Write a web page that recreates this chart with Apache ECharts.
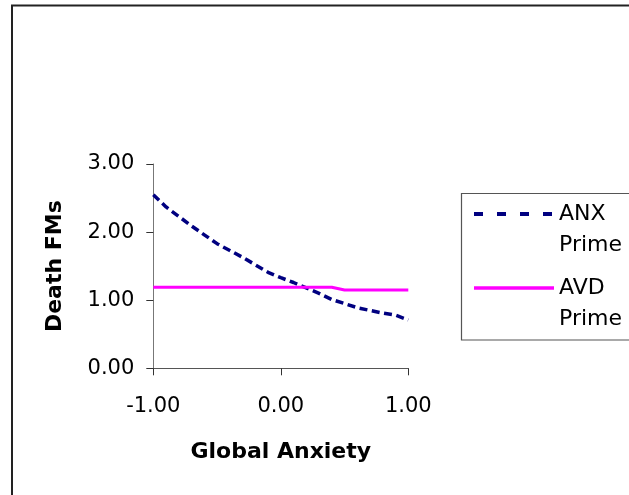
<!DOCTYPE html>
<html>
<head>
<meta charset="utf-8">
<script src="https://cdn.jsdelivr.net/npm/echarts@6/dist/echarts.min.js"></script>
<style>
html,body{margin:0;padding:0;background:#fff;}
#c{width:629px;height:495px;}
</style>
</head>
<body>
<div id="c"></div>
<script>
// Data
const xValues = [-1.0,-0.9,-0.8,-0.7,-0.6,-0.5,-0.4,-0.3,-0.2,-0.1,0.0,0.1,0.2,0.3,0.4,0.5,0.6,0.7,0.8,0.9,1.0];
const anxPrime = [2.55,2.37,2.23,2.09,1.96,1.83,1.73,1.63,1.52,1.41,1.33,1.26,1.18,1.10,1.01,0.95,0.89,0.85,0.81,0.78,0.71];
const avdPrime = [1.19,1.19,1.19,1.19,1.19,1.19,1.19,1.19,1.19,1.19,1.19,1.19,1.19,1.19,1.19,1.15,1.15,1.15,1.15,1.15,1.15];
const seriesNames = ['ANX Prime','AVD Prime'];
const xTicks = [-1, 0, 1];
const yTicks = [0, 1, 2, 3];
const xTitle = 'Global Anxiety';
const yTitle = 'Death FMs';

const FONT = 'DejaVu Sans';
const pairs = (ys) => xValues.map((x, i) => [x, ys[i]]);

const chart = echarts.init(document.getElementById('c'), null, {renderer: 'canvas'});
chart.setOption({
  animation: false,
  backgroundColor: '#ffffff',
  graphic: [
    {type: 'rect', shape: {x: 12, y: 5.5, width: 700, height: 600},
     style: {fill: 'none', stroke: '#222', lineWidth: 2}, silent: true},
    {type: 'rect', shape: {x: 461.5, y: 193.5, width: 300, height: 146.5},
     style: {fill: 'none', stroke: '#555', lineWidth: 1.2}, silent: true}
  ],
  grid: {left: 153.3, top: 164, width: 255, height: 204.3, containLabel: false},
  legend: {
    orient: 'vertical',
    left: 472,
    top: 167.5,
    padding: 0,
    itemWidth: 80,
    itemHeight: 14,
    itemGap: -19,
    formatter: (name) => '\n' + name.replace(' ', '\n'),
    textStyle: {fontFamily: FONT, fontSize: 22, color: '#000', lineHeight: 31},
    data: [
      {name: seriesNames[0], itemStyle: {opacity: 0}, lineStyle: {type: [9, 14], width: 4, color: '#000080'}},
      {name: seriesNames[1], itemStyle: {opacity: 0}, lineStyle: {type: 'solid', width: 3.5, color: '#ff00ff'}}
    ]
  },
  xAxis: {
    type: 'value',
    min: xTicks[0], max: xTicks[xTicks.length - 1], interval: 1,
    name: xTitle, nameLocation: 'middle', nameGap: 84,
    nameTextStyle: {fontFamily: FONT, fontSize: 22, fontWeight: 'bold', color: '#000', verticalAlign: 'middle'},
    axisLine: {show: true, onZero: false, lineStyle: {color: '#555', width: 1}},
    axisTick: {show: true, length: 7, inside: false, lineStyle: {color: '#333'}},
    axisLabel: {fontFamily: FONT, fontSize: 21, color: '#000', margin: 28, formatter: (v) => v.toFixed(2)},
    splitLine: {show: false}
  },
  yAxis: {
    type: 'value',
    min: yTicks[0], max: yTicks[yTicks.length - 1], interval: 1,
    name: yTitle, nameLocation: 'middle', nameGap: 98,
    nameTextStyle: {fontFamily: FONT, fontSize: 22, fontWeight: 'bold', color: '#000', verticalAlign: 'middle'},
    axisLine: {show: true, onZero: false, lineStyle: {color: '#777', width: 1}},
    axisTick: {show: true, length: 7, inside: false, lineStyle: {color: '#333'}},
    axisLabel: {fontFamily: FONT, fontSize: 21, color: '#000', margin: 19, formatter: (v) => v.toFixed(2)},
    splitLine: {show: false}
  },
  series: [
    {name: seriesNames[0], type: 'line', data: pairs(anxPrime), symbol: 'none',
     lineStyle: {color: '#000080', width: 3.5, type: [8, 4.5]}, itemStyle: {color: '#000080'}},
    {name: seriesNames[1], type: 'line', data: pairs(avdPrime), symbol: 'none',
     lineStyle: {color: '#ff00ff', width: 3.2, type: 'solid'}, itemStyle: {color: '#ff00ff'}}
  ]
});
</script>
</body>
</html>
